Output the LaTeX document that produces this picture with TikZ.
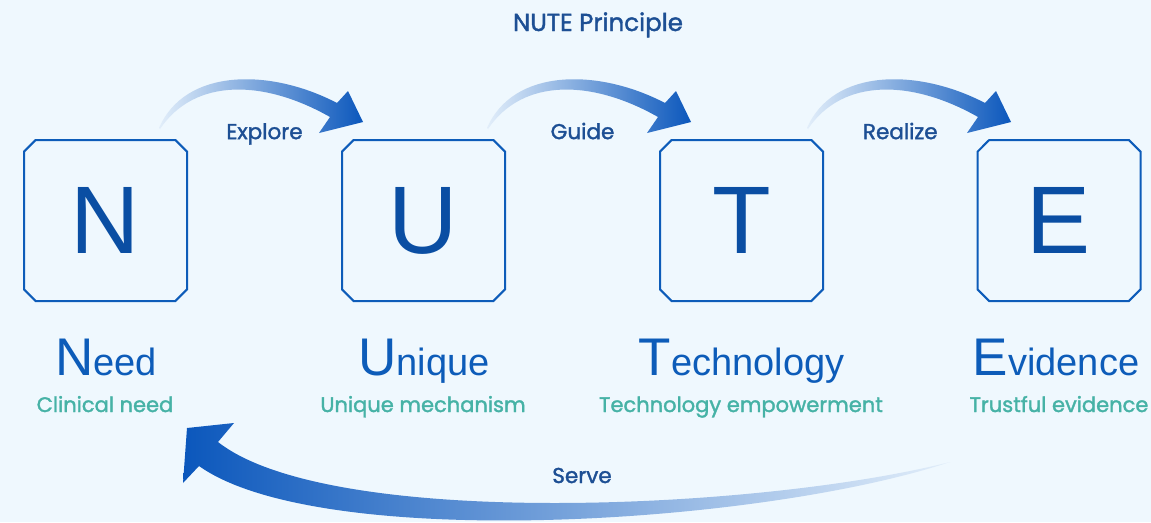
\documentclass[tikz,border=0pt]{standalone}
\usepackage{fontspec}
\setmainfont{Poppins}
\newfontfamily\capfont{Liberation Sans}
\newfontfamily\medfont[FakeBold=1.6]{Poppins}
\usetikzlibrary{shapes.misc,positioning,calc}
\definecolor{PageBg}{HTML}{EFF8FE}
\definecolor{NuteBlue}{HTML}{0D5CB9}
\definecolor{NuteDark}{HTML}{0A4EA3}
\definecolor{NuteNavy}{HTML}{1D4F94}
\definecolor{NuteTeal}{HTML}{46B2A6}
\definecolor{ArrowFade}{HTML}{E2EEFA}
\definecolor{ArrowDeep}{HTML}{0B57BC}

% big initial + rest of the word
\newcommand{\nuteword}[2]{{\fontsize{53}{53}\selectfont #1}{\fontsize{38}{38}\selectfont #2}}

\begin{document}
\begin{tikzpicture}[x=1pt, y=-1pt,
    letterbox/.style={chamfered rectangle, chamfered rectangle xsep=8pt, draw=NuteBlue, line width=2pt, minimum width=163pt, minimum height=161pt, inner sep=0pt, text=NuteDark, font=\capfont\fontsize{96}{96}\selectfont},
    word/.style={anchor=base, inner sep=0pt, text=NuteBlue, font=\capfont},
    subtitle/.style={anchor=base, inner sep=0pt, text=NuteTeal, font=\medfont\fontsize{21}{21}\selectfont},
    steplabel/.style={anchor=base, inner sep=0pt, text=NuteNavy, font=\medfont\fontsize{21.5}{21.5}\selectfont}
]
    \useasboundingbox (0,0) rectangle (1151,522);
    \fill[PageBg] (0,0) rectangle (1151,522);

    \node[anchor=base, inner sep=0pt, text=NuteNavy, font=\medfont\fontsize{24.5}{24.5}\selectfont] (title) at (598,31) {NUTE Principle};

    \node[letterbox] (boxN) at (105.5,220.5) {N};
    \node[letterbox] (boxU) at (423.5,220.5) {U};
    \node[letterbox] (boxT) at (741.5,220.5) {T};
    \node[letterbox] (boxE) at (1059,220.5) {E};

    \node[word] (wordN) at (106,375) {\nuteword{N}{eed}};
    \node[word] (wordU) at (424,375) {\nuteword{U}{nique}};
    \node[word] (wordT) at (741.5,375) {\nuteword{T}{echnology}};
    \node[word] (wordE) at (1056,375) {\nuteword{E}{vidence}};

    \node[subtitle] (subN) at (105,412) {Clinical need};
    \node[subtitle] (subU) at (423,412) {Unique mechanism};
    \node[subtitle] (subT) at (741,412) {Technology empowerment};
    \node[subtitle] (subE) at (1059,412) {Trustful evidence};

    % forward arrows between the boxes
    \foreach \from/\to/\txt/\dx in {boxN/boxU/Explore/0, boxU/boxT/Guide/10, boxT/boxE/Realize/12} {
        \begin{scope}[shift={($(\from.north -| \from.east)+(\dx,0)$)}]
            \shade[left color=ArrowFade, right color=ArrowDeep]
                (-29,-11) .. controls (-3,-71) and (82,-71) .. (149,-36)
                -- (160,-48) -- (175,-17) -- (131,-6) -- (142,-22)
                .. controls (77,-59) and (7,-62) .. (-28,-10) -- cycle;
        \end{scope}
        \node[steplabel] at ($(\from.north east)!0.5!(\to.north west)+(0,-6)$) {\txt};
    }

    % return arrow
    \begin{scope}[shift={(boxN.south -| boxN.east)}]
        \shade[left color=ArrowDeep, right color=ArrowFade]
            (762,160) .. controls (572,208) and (142,228) .. (30,140)
            -- (46,121) -- (-1,126) -- (-5,181) -- (11,164)
            .. controls (132,250) and (572,223) .. (762,160) -- cycle;
    \end{scope}
    \node[steplabel] (serve) at (582,483) {Serve};
\end{tikzpicture}
\end{document}
